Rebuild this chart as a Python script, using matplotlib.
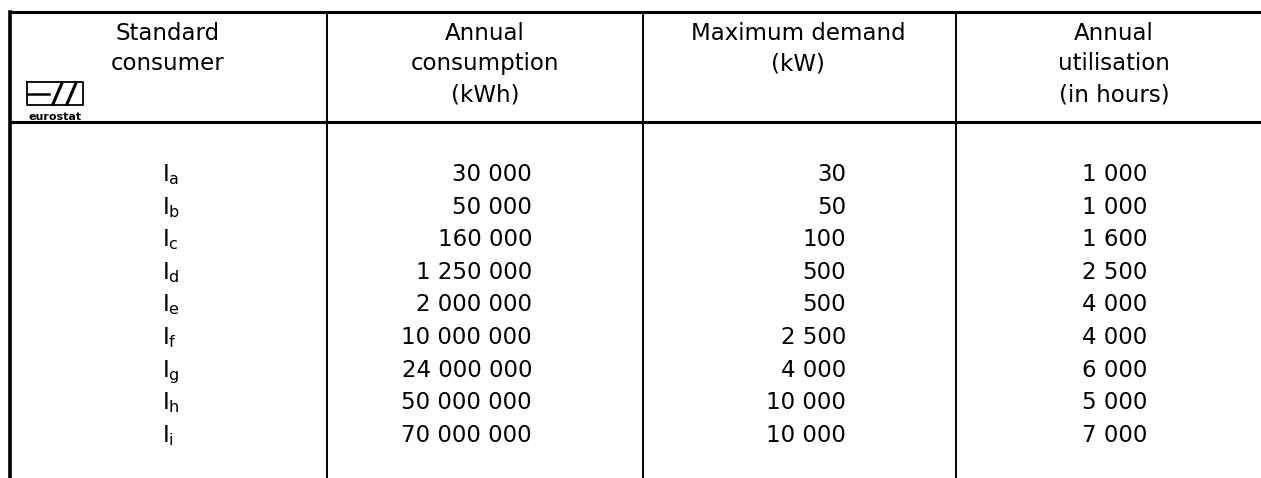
import matplotlib
matplotlib.use("Agg")
import matplotlib.pyplot as plt

# =========================
# Data
# =========================
HEADERS = [
    ["Standard", "consumer"],
    ["Annual", "consumption", "(kWh)"],
    ["Maximum demand", "(kW)"],
    ["Annual", "utilisation", "(in hours)"],
]
CONSUMERS = ["a", "b", "c", "d", "e", "f", "g", "h", "i"]
CONSUMPTION_KWH = [30000, 50000, 160000, 1250000, 2000000,
                   10000000, 24000000, 50000000, 70000000]
MAX_DEMAND_KW = [30, 50, 100, 500, 500, 2500, 4000, 10000, 10000]
UTILISATION_H = [1000, 1000, 1600, 2500, 4000, 4000, 6000, 5000, 7000]

# =========================
# Layout (pixels)
# =========================
W, H = 1261, 478
COL_EDGES = [10, 327, 643, 956]
HEAD_CENTERS = [168, 485, 798, 1114]
VALUE_RIGHT = [532, 846, 1147]
LABEL_X = 162
TOP_Y, HEAD_Y = 12, 122
HEAD_BASE0, HEAD_DY = 39.5, 30.75
ROW_BASE0, ROW_DY = 181, 32.6
FS = 16.5

plt.rcParams["font.family"] = "DejaVu Sans"
plt.rcParams["mathtext.default"] = "regular"


def fmt(v):
    return f"{v:,}".replace(",", " ")


fig = plt.figure(figsize=(W / 100, H / 100), dpi=100)
ax = fig.add_axes([0, 0, 1, 1])
ax.set_xlim(0, W)
ax.set_ylim(H, 0)
ax.axis("off")

# =========================
# Grid lines
# =========================
ax.plot([COL_EDGES[0], W], [TOP_Y, TOP_Y], color="black", lw=2.2, solid_capstyle="butt")
ax.plot([COL_EDGES[0], W], [HEAD_Y, HEAD_Y], color="black", lw=2.2, solid_capstyle="butt")
ax.plot([COL_EDGES[0], COL_EDGES[0]], [TOP_Y, H], color="black", lw=2.6)
for x in COL_EDGES[1:]:
    ax.plot([x, x], [TOP_Y, H], color="black", lw=1.4)

# =========================
# Header
# =========================
for cx, lines in zip(HEAD_CENTERS, HEADERS):
    for k, line in enumerate(lines):
        ax.text(cx, HEAD_BASE0 + k * HEAD_DY, line, ha="center", va="baseline",
                fontsize=FS, color="black")

# eurostat logo (rough)
lx0, lx1, ly0, ly1 = 27, 83, 82, 105
ax.plot([lx0, lx1, lx1, lx0, lx0], [ly0, ly0, ly1, ly1, ly0], color="black", lw=1.3)
ax.plot([lx0, lx0 + 22], [93.5, 93.5], color="black", lw=1.8)
ax.plot([lx0 + 26, lx0 + 35], [ly1 - 1, ly0 + 1], color="black", lw=2.2)
ax.plot([lx0 + 40, lx0 + 49], [ly1 - 1, ly0 + 1], color="black", lw=2.2)
ax.text((lx0 + lx1) / 2, 119.5, "eurostat", ha="center", va="baseline",
        fontsize=8, fontweight="bold", color="black")

# =========================
# Body
# =========================
for i, c in enumerate(CONSUMERS):
    y = ROW_BASE0 + i * ROW_DY
    ax.text(LABEL_X, y, r"$\mathregular{I_" + c + "}$", ha="left", va="baseline",
            fontsize=FS, color="black")
    for xr, col in zip(VALUE_RIGHT, [CONSUMPTION_KWH, MAX_DEMAND_KW, UTILISATION_H]):
        ax.text(xr, y, fmt(col[i]), ha="right", va="baseline",
                fontsize=FS, color="black")

fig.savefig("out.png", dpi=100, facecolor="white")
